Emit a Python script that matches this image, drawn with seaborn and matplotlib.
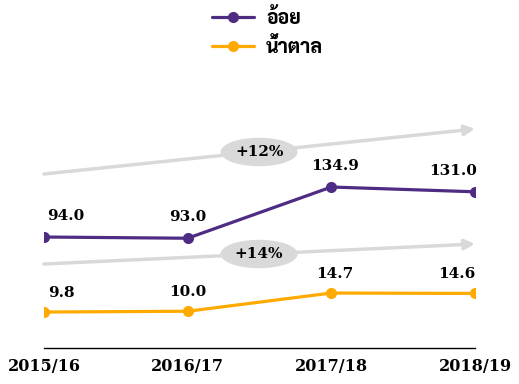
import matplotlib
matplotlib.use("Agg")
import matplotlib.pyplot as plt
import seaborn as sns
import pandas as pd

years = ["2015/16", "2016/17", "2017/18", "2018/19"]
cane = [94.0, 93.0, 134.9, 131.0]
sugar = [9.8, 10.0, 14.7, 14.6]
cane_label = "อ้อย"
sugar_label = "น้ำตาล"
growth_labels = ["+12%", "+14%"]

sns.set_theme(style="white")
plt.rcParams['font.family'] = ['DejaVu Serif', 'Sarabun', 'Noto Sans Thai Looped']
plt.rcParams['font.weight'] = 'bold'
plt.rcParams['text.color'] = 'black'
plt.rcParams['xtick.color'] = 'black'

purple = "#4F2C83"
orange = "#FFAA00"
grey = "#D9D9D9"

df = pd.DataFrame({"x": range(len(years)), "cane": cane, "sugar": sugar})

fig = plt.figure(figsize=(5.19, 3.84), dpi=100)
W, H = 519, 384
left, right, top, bottom = 44, 475, 100, 348
ax = fig.add_axes([left / W, 1 - bottom / H, (right - left) / W, (bottom - top) / H])
ax2 = ax.twinx()

sns.lineplot(data=df, x="x", y="cane", ax=ax, color=purple, lw=2.3, marker="o",
             markersize=8, markeredgewidth=0, label=cane_label, legend=False)
sns.lineplot(data=df, x="x", y="sugar", ax=ax2, color=orange, lw=2.3, marker="o",
             markersize=8, markeredgewidth=0, label=sugar_label, legend=False)

ax.set_xlim(0, 3)
ax.set_ylim(3.2, 206.1)
ax2.set_ylim(0.52, 64.5)

for a in (ax, ax2):
    for s in ("top", "left", "right"):
        a.spines[s].set_visible(False)
    a.set_yticks([])
    a.set_ylabel("")
    a.set_xlabel("")
ax2.spines["bottom"].set_visible(False)
ax.spines["bottom"].set_color("black")
ax.spines["bottom"].set_linewidth(1)

ax.set_xticks(range(len(years)))
ax.set_xticklabels(years, fontsize=11.5, fontweight="bold", color="black")
ax.tick_params(axis="x", length=0, pad=7)

offsets = [16, 0, 3, -16]
for i in range(len(years)):
    ax.annotate(f"{cane[i]:.1f}", (i, cane[i]), xytext=(offsets[i], 10), textcoords="offset points",
                ha="center", va="bottom", fontsize=11, fontweight="bold", color="black")
    ax2.annotate(f"{sugar[i]:.1f}", (i, sugar[i]), xytext=(offsets[i] * 0.8, 9), textcoords="offset points",
                 ha="center", va="bottom", fontsize=11, fontweight="bold", color="black")

# growth arrows
def yf(py):
    return (bottom - py) / (bottom - top)

for (y0, y1, ym, lab) in [(174, 129, 152, growth_labels[0]), (264, 244, 254, growth_labels[1])]:
    ax.annotate("", xy=(1.0, yf(y1)), xytext=(0.0, yf(y0)), xycoords="axes fraction",
                textcoords="axes fraction",
                arrowprops=dict(arrowstyle="-|>,head_length=0.5,head_width=0.25", color=grey, lw=2.5,
                                shrinkA=0, shrinkB=0), zorder=0)
    ax.text(0.499, yf(ym), lab, transform=ax.transAxes, ha="center", va="center",
            fontsize=11, fontweight="bold", color="black",
            bbox=dict(boxstyle="ellipse,pad=0.2", fc=grey, ec="none"), zorder=1)

h1, l1 = ax.get_legend_handles_labels()
h2, l2 = ax2.get_legend_handles_labels()
fig.legend(h1 + h2, l1 + l2, loc="upper center", bbox_to_anchor=(0.515, 1.024), frameon=False,
           prop=dict(family=['Sarabun', 'Noto Sans Thai Looped', 'DejaVu Sans'], size=14, weight="heavy"),
           handlelength=2.2, labelspacing=0.45, handletextpad=0.6)

fig.savefig("out.png", dpi=100)
